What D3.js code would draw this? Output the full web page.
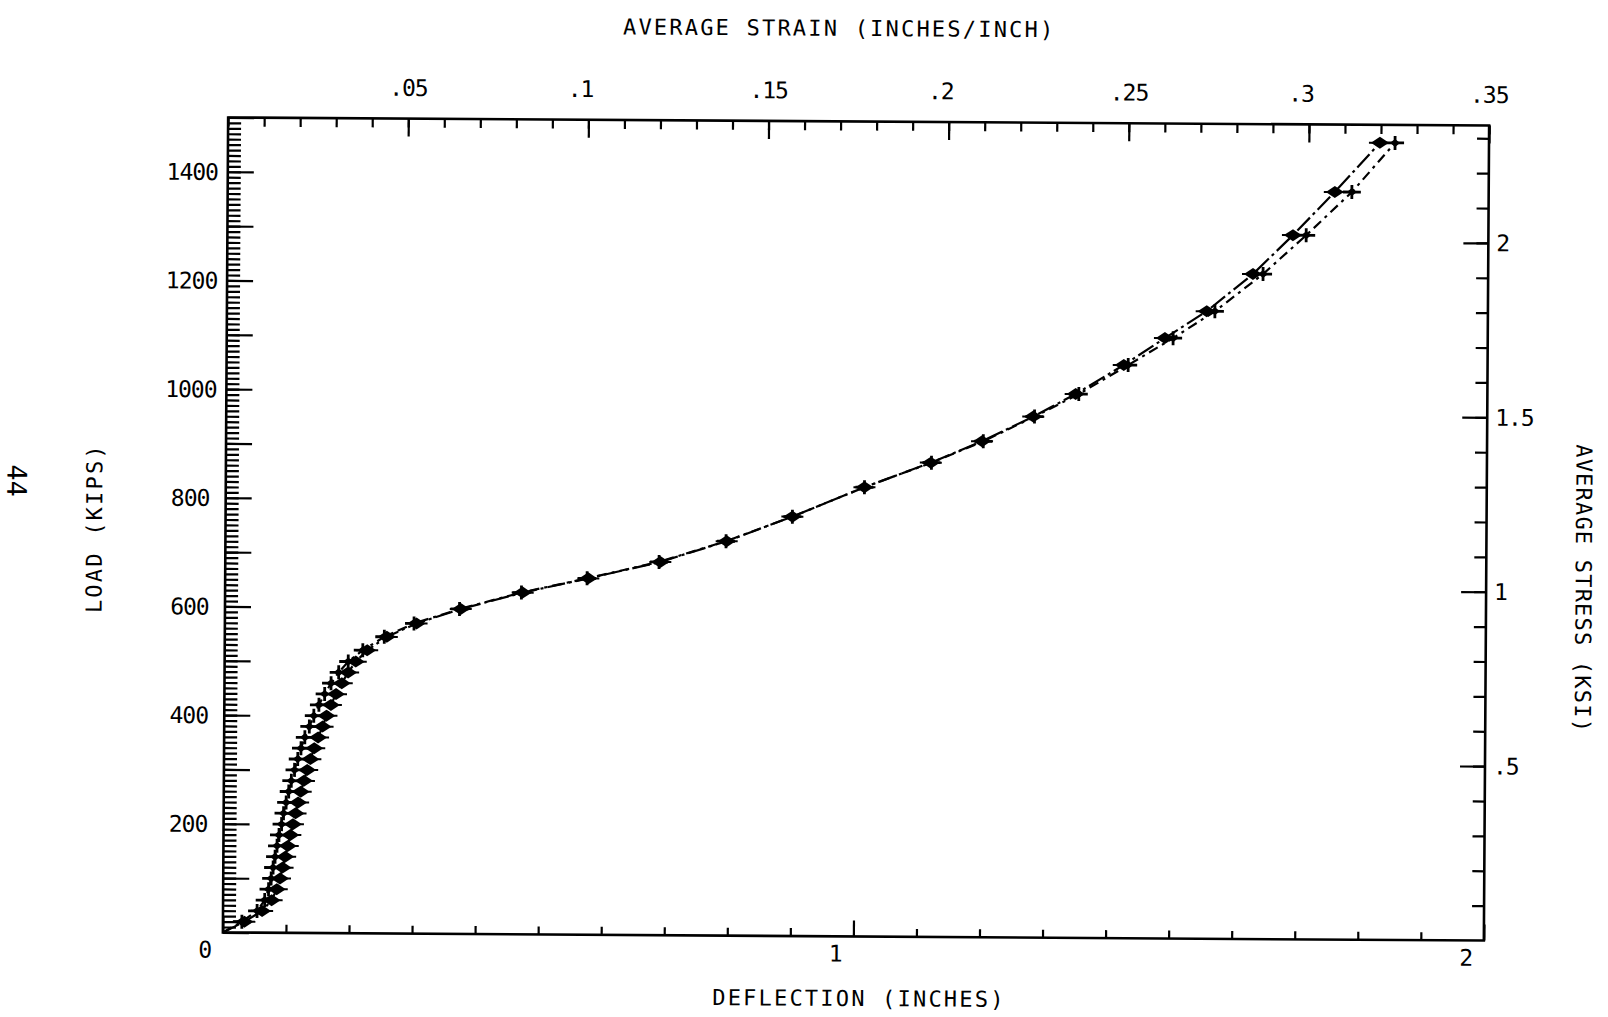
<!DOCTYPE html>
<html>
<head>
<meta charset="utf-8">
<script src="https://cdn.jsdelivr.net/npm/d3@7"></script>
<style>
  html, body { margin: 0; padding: 0; background: #fff; }
  svg { display: block; }
  text { font-family: "DejaVu Sans Mono", monospace; fill: #000; }
</style>
</head>
<body>
<svg id="chart" width="1608" height="1017"></svg>
<script>
// load steps (kips), shared by both gauges
const loads = [0, 20, 40, 60, 80, 100, 120, 140, 160, 180, 200, 220, 240, 260, 280, 300,
  320, 340, 360, 380, 400, 420, 440, 460, 480, 500,
  521, 546, 571, 598, 629, 656, 687, 726, 772, 827, 873, 913, 959, 1001, 1055,
  1105, 1155, 1224, 1296, 1376, 1467]

// deflection (inches), "+" gauge
const deflPlus = [0, .030, .054, .066, .072, .076, .079, .082, .085, .088, .092, .095, .099,
  .103, .107, .112, .117, .122, .128, .135, .142, .150, .159, .169, .181, .196,
  .219, .253, .300, .372, .470, .574, .688, .794, .899, 1.013, 1.119, 1.201, 1.282,
  1.352, 1.430, 1.501, 1.567, 1.643, 1.711, 1.783, 1.851]

// deflection (inches), diamond gauge
const deflDiamond = [0, .034, .062, .077, .085, .090, .094, .098, .102, .106, .110, .114, .118,
  .122, .127, .132, .137, .143, .149, .156, .162, .169, .177, .186, .196, .208,
  .226, .257, .304, .374, .472, .576, .690, .795, .899, 1.013, 1.118, 1.199, 1.280,
  1.347, 1.423, 1.488, 1.554, 1.627, 1.690, 1.756, 1.827]

const loadTicks = [200, 400, 600, 800, 1000, 1200, 1400]
const deflTicks = [0, 1, 2]
const deflLabels = ["0", "1", "2"]
const strainTicks = [.05, .1, .15, .2, .25, .3, .35]
const strainLabels = [".05", ".1", ".15", ".2", ".25", ".3", ".35"]
const stressTicks = [.5, 1, 1.5, 2]
const stressLabels = [".5", "1", "1.5", "2"]

const AREA = 642 // kips per ksi

const pL = 225.5, pR = 1486.5, pT = 121.5, pB = 936.5

const x = d3.scaleLinear().domain([0, 2]).range([pL, pR])
const xTop = d3.scaleLinear().domain([0, 0.35]).range([pL, pR])
const y = d3.scaleLinear().domain([0, 1500]).range([pB, pT])
const yRight = d3.scaleLinear().domain([0, 1500 / AREA]).range([pB, pT])

const svg = d3.select("#chart")
svg.append("rect").attr("width", 1608).attr("height", 1017).attr("fill", "#fff")

// the scanned page sits a little crooked
const g = svg.append("g").attr("transform", "rotate(0.37,856,529)")

function ticks(axis, scale, values, size, pos) {
  const a = axis(scale).tickValues(values).tickSize(size).tickFormat("")
  g.append("g")
    .attr("transform", pos)
    .call(a)
    .call(s => s.select(".domain").remove())
    .call(s => s.selectAll("line").attr("stroke", "#000").attr("stroke-width", 2.2))
}

// bottom: deflection
ticks(d3.axisBottom, x, d3.range(0, 2.001, 0.1).filter(v => Math.abs(v - Math.round(v)) > 1e-6), -8, `translate(0,${pB})`)
ticks(d3.axisBottom, x, deflTicks, -16, `translate(0,${pB})`)
// top: strain
ticks(d3.axisTop, xTop, d3.range(0, 0.3501, 0.01), -9, `translate(0,${pT})`)
ticks(d3.axisTop, xTop, strainTicks, -18, `translate(0,${pT})`)
// left: load
ticks(d3.axisLeft, y, d3.range(0, 1501, 10), -13, `translate(${pL},0)`)
ticks(d3.axisLeft, y, d3.range(0, 1501, 100), -26, `translate(${pL},0)`)
// right: stress
ticks(d3.axisRight, yRight, d3.range(0.1, 2.34, 0.1), -12, `translate(${pR},0)`)
ticks(d3.axisRight, yRight, stressTicks, -25, `translate(${pR},0)`)

// frame
g.append("rect")
  .attr("x", pL).attr("y", pT)
  .attr("width", pR - pL).attr("height", pB - pT)
  .attr("fill", "none").attr("stroke", "#000").attr("stroke-width", 2.6)

// tick labels
const num = { "font-size": "23px", "letter-spacing": "-1px" }
function label(sel, attrs) {
  Object.entries(Object.assign({}, num, attrs)).forEach(([k, v]) => sel.attr(k, v))
  return sel
}

loadTicks.forEach(v => {
  label(g.append("text"), { x: 190, y: y(v), dy: "0.36em", "text-anchor": "middle" }).text(v)
})
deflTicks.forEach((v, i) => {
  label(g.append("text"), { x: x(v) - 18, y: pB + 17, dy: "0.36em", "text-anchor": "middle" }).text(deflLabels[i])
})
strainTicks.forEach((v, i) => {
  const s = strainLabels[i]
  label(g.append("text"), { x: xTop(v) + (s.length - 3) * 8, y: pT - 31, dy: "0.36em", "text-anchor": "middle" }).text(s)
})
stressTicks.forEach((v, i) => {
  label(g.append("text"), { x: pR + 8, y: yRight(v), dy: "0.36em", "text-anchor": "start" }).text(stressLabels[i])
})

// axis titles
const title = { "font-size": "22px", "letter-spacing": "2.2px", "text-anchor": "middle" }
label(g.append("text"), Object.assign({}, title, { x: 836, y: 36 })).text("AVERAGE STRAIN (INCHES/INCH)")
label(g.append("text"), Object.assign({}, title, { x: 862, y: 1006 })).text("DEFLECTION (INCHES)")
label(g.append("text"), Object.assign({}, title, { transform: "translate(102,533) rotate(-90)" })).text("LOAD (KIPS)")
label(g.append("text"), Object.assign({}, title, { "letter-spacing": "1.2px", transform: "translate(1576,584) rotate(90)" })).text("AVERAGE STRESS (KSI)")

// page number
g.append("text")
  .attr("transform", "translate(7,486) rotate(90)")
  .attr("text-anchor", "middle")
  .attr("font-family", "Liberation Sans, Arial, sans-serif")
  .attr("font-size", "27px")
  .text("44")

// series
const plusData = loads.map((l, i) => ({ load: l, d: deflPlus[i] }))
const diamondData = loads.map((l, i) => ({ load: l, d: deflDiamond[i] }))

const line = d3.line().x(p => x(p.d)).y(p => y(p.load))

g.append("path")
  .datum(diamondData)
  .attr("d", line)
  .attr("fill", "none")
  .attr("stroke", "#000")
  .attr("stroke-width", 2.2)
  .attr("stroke-dasharray", "18,4,3,4")

g.append("path")
  .datum(plusData)
  .attr("d", line)
  .attr("fill", "none")
  .attr("stroke", "#000")
  .attr("stroke-width", 2.2)
  .attr("stroke-dasharray", "10,5,3,5")

const diamonds = g.append("g").selectAll("g")
  .data(diamondData.slice(1))
  .join("g")
  .attr("transform", p => `translate(${x(p.d)},${y(p.load)})`)
diamonds.append("path").attr("d", "M-9,0L0,-6L9,0L0,6Z").attr("fill", "#000")
diamonds.append("path").attr("d", "M-11,0H11").attr("stroke", "#000").attr("stroke-width", 2)

const pluses = g.append("g").selectAll("g")
  .data(plusData.slice(1))
  .join("g")
  .attr("transform", p => `translate(${x(p.d)},${y(p.load)})`)
pluses.append("path").attr("d", "M-9,0H9M0,-7V7").attr("stroke", "#000").attr("stroke-width", 2.8)
pluses.append("path").attr("d", "M-5,0L0,-4L5,0L0,4Z").attr("fill", "#000")
</script>
</body>
</html>
